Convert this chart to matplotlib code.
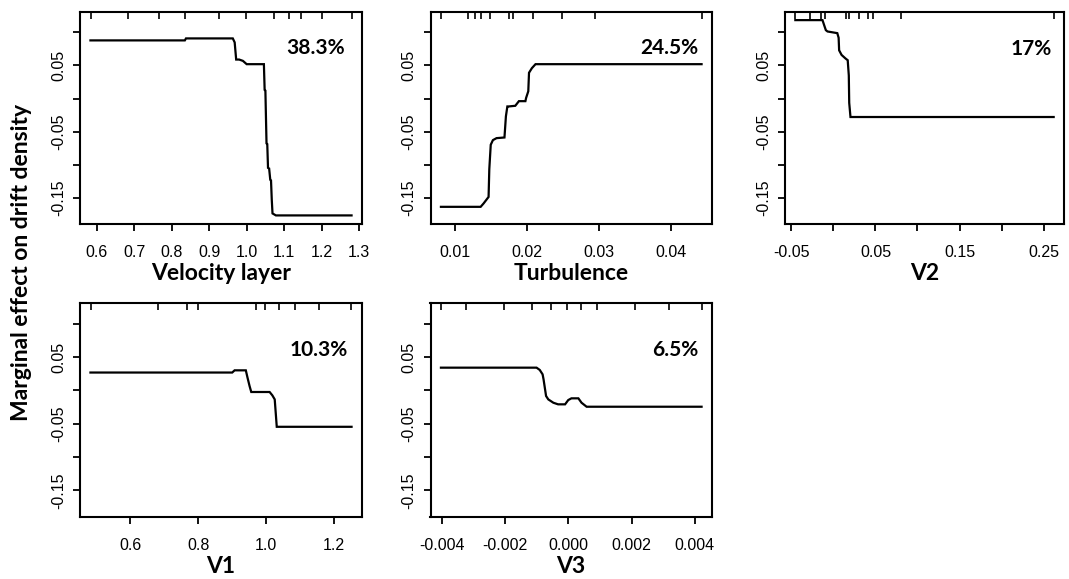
import numpy as np
import matplotlib
matplotlib.use("Agg")
import matplotlib.pyplot as plt

# partial dependence curves
vel_x = [0.583, 0.835, 0.838, 0.963, 0.968, 0.972, 0.98, 0.99, 1.0, 1.046, 1.048,
         1.050, 1.053, 1.055, 1.057, 1.060, 1.063, 1.065, 1.067, 1.069, 1.078, 1.28]
vel_y = [0.088, 0.088, 0.091, 0.091, 0.085, 0.059, 0.059, 0.057, 0.052, 0.052, 0.013,
         0.012, -0.068, -0.069, -0.105, -0.106, -0.123, -0.124, -0.153, -0.174, -0.177, -0.177]
vel_rug = [0.585, 0.684, 0.766, 0.835, 0.925, 0.998, 1.073, 1.113, 1.146, 1.2, 1.28]

turb_x = [0.0081, 0.0136, 0.0140, 0.0147, 0.0148, 0.0150, 0.0153, 0.0158, 0.0169, 0.0171,
          0.0173, 0.0175, 0.0184, 0.0189, 0.0198, 0.0199, 0.0202, 0.0203, 0.0207, 0.0212, 0.0442]
turb_y = [-0.164, -0.164, -0.159, -0.149, -0.107, -0.070, -0.063, -0.060, -0.059, -0.027,
          -0.012, -0.012, -0.011, -0.004, -0.004, 0.001, 0.011, 0.039, 0.046, 0.052, 0.052]
turb_rug = [0.0081, 0.0118, 0.0128, 0.0137, 0.0149, 0.0175, 0.0181, 0.0209, 0.0249, 0.0294, 0.0442]

v2_x = [-0.0453, -0.013, -0.011, -0.009, -0.007, 0.0046, 0.0062, 0.0068, 0.0097, 0.0144,
        0.017, 0.0183, 0.0188, 0.0203, 0.262]
v2_y = [0.1187, 0.1187, 0.111, 0.1035, 0.1015, 0.099, 0.092, 0.073, 0.066, 0.0606,
        0.058, 0.035, -0.0066, -0.028, -0.028]
v2_rug = [-0.0453, -0.0274, -0.0149, -0.0102, 0.0144, 0.0191, 0.0308, 0.0417, 0.0467, 0.0807, 0.262]

v1_x = [0.483, 0.900, 0.907, 0.940, 0.945, 0.951, 0.956, 1.010, 1.018, 1.025, 1.028, 1.031, 1.251]
v1_y = [0.0267, 0.0267, 0.030, 0.030, 0.019, 0.0065, -0.0025, -0.0025, -0.0075, -0.0136,
        -0.034, -0.0547, -0.0547]
v1_rug = [0.485, 0.681, 0.768, 0.8, 0.97, 0.995, 1.039, 1.086, 1.156, 1.249]

v3_x = [-0.00402, -0.00100, -0.00090, -0.00081, -0.00078, -0.00070, -0.00063, -0.00047,
        -0.00032, -0.00010, 0.0, 0.0001, 0.00032, 0.00042, 0.00058, 0.00421]
v3_y = [0.034, 0.034, 0.0306, 0.024, 0.0166, -0.0085, -0.0136, -0.0186, -0.021, -0.021,
        -0.0146, -0.012, -0.012, -0.0186, -0.0246, -0.0246]
v3_rug = [-0.00402, -0.00323, -0.00203, -0.00116, -0.00055, -0.00005, 0.0004, 0.0009,
          0.00211, 0.00319, 0.00421]

names = ["Velocity layer", "Turbulence", "V2", "V1", "V3"]
importance = ["38.3%", "24.5%", "17%", "10.3%", "6.5%"]
xs = [vel_x, turb_x, v2_x, v1_x, v3_x]
ys = [vel_y, turb_y, v2_y, v1_y, v3_y]
rugs = [vel_rug, turb_rug, v2_rug, v1_rug, v3_rug]

xticks = [
    [0.6, 0.7, 0.8, 0.9, 1.0, 1.1, 1.2, 1.3],
    [0.01, 0.02, 0.03, 0.04],
    [-0.05, 0.0, 0.05, 0.10, 0.15, 0.20, 0.25],
    [0.6, 0.8, 1.0, 1.2],
    [-0.004, -0.002, 0.0, 0.002, 0.004],
]
xlabels = [
    ["0.6", "0.7", "0.8", "0.9", "1.0", "1.1", "1.2", "1.3"],
    ["0.01", "0.02", "0.03", "0.04"],
    ["-0.05", "", "0.05", "", "0.15", "", "0.25"],
    ["0.6", "0.8", "1.0", "1.2"],
    ["-0.004", "-0.002", "0.000", "0.002", "0.004"],
]
yticks = [0.10, 0.05, 0.0, -0.05, -0.10, -0.15]
ylabels = ["", "0.05", "", "-0.05", "", "-0.15"]

W, H = 1069, 579
# panel frames in pixels: left, top, right, bottom
frames = [(80, 12, 362, 224), (430.5, 12, 712, 224), (785, 12, 1064, 224),
          (80, 303, 362, 517), (430.5, 303, 712, 517)]
txt_pos = [(0.94, 0.83), (0.95, 0.83), (0.957, 0.825), (0.95, 0.78), (0.95, 0.78)]

fig = plt.figure(figsize=(W / 100, H / 100), dpi=100)
tickfont = "Liberation Sans"
boldfont = "Lato"

for i in range(5):
    l, t, r, b = frames[i]
    ax = fig.add_axes([l / W, 1 - b / H, (r - l) / W, (b - t) / H])
    ax.plot(xs[i], ys[i], color="black", lw=1.6, solid_joinstyle="miter")
    ax.vlines(rugs[i], 0.967, 1, transform=ax.get_xaxis_transform(), color="black", lw=1.2)
    x0, x1 = min(xs[i]), max(xs[i])
    pad = (x1 - x0) * 0.04
    ax.set_xlim(x0 - pad, x1 + pad)
    ax.set_ylim(-0.19, 0.131)
    ax.set_xticks(xticks[i])
    ax.set_xticklabels(xlabels[i], fontfamily=tickfont, fontsize=11.5)
    ax.set_yticks(yticks)
    ax.set_yticklabels(ylabels, fontfamily=tickfont, fontsize=11.5, rotation=90, va="center")
    ax.tick_params(direction="out", length=5, width=1.3, color="black")
    ax.tick_params(axis="x", pad=10)
    ax.tick_params(axis="y", pad=5)
    for s in ax.spines.values():
        s.set_linewidth(1.5)
    ax.set_xlabel(names[i], fontfamily=boldfont, fontweight="bold", fontsize=16.5, labelpad=2)
    ax.text(txt_pos[i][0], txt_pos[i][1], importance[i], transform=ax.transAxes,
            ha="right", va="center", fontfamily=boldfont, fontweight="bold", fontsize=15)

fig.text(22 / W, 1 - 262 / H, "Marginal effect on drift density", rotation=90,
         ha="center", va="center", fontfamily=boldfont, fontweight="bold", fontsize=16.5)

fig.savefig("out.png", dpi=100)
